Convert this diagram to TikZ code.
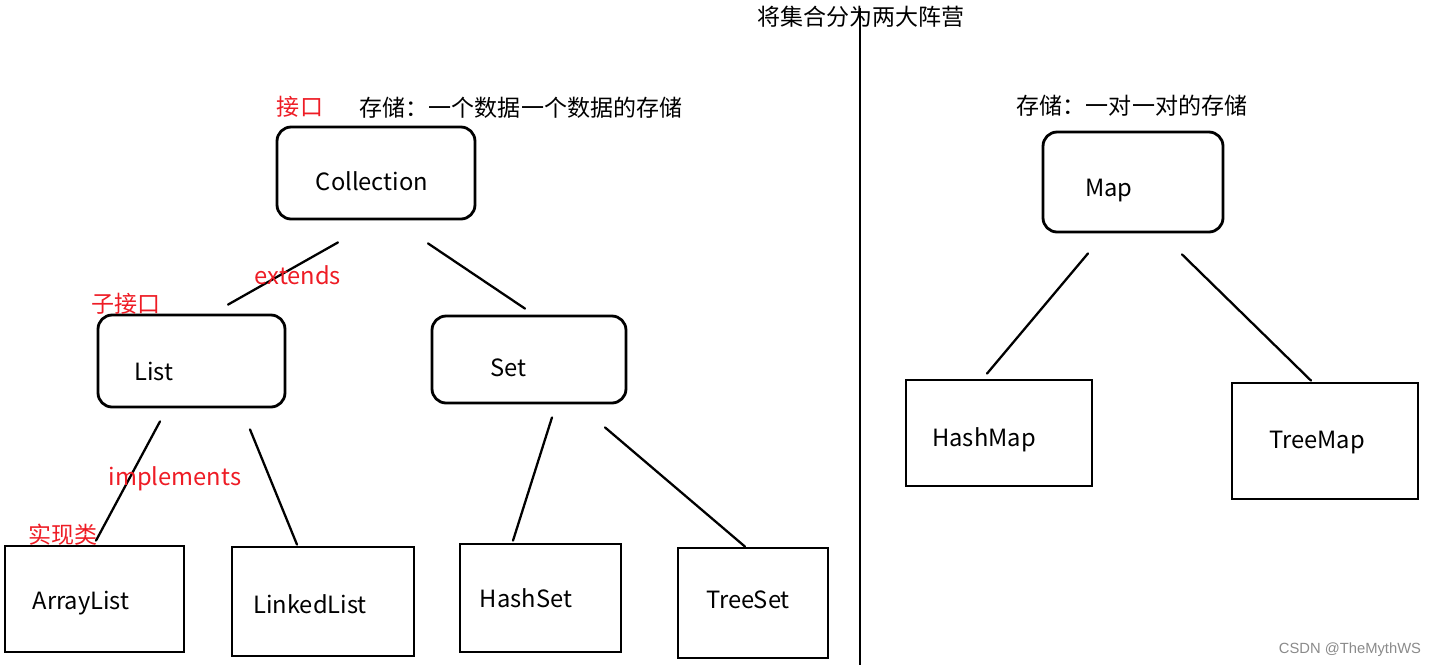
\documentclass[tikz,border=0pt]{standalone}
\usepackage{fontspec}
\setmainfont{Noto Sans CJK SC}
\newfontfamily\wmfont{Liberation Sans}
\usetikzlibrary{positioning}
\definecolor{cred}{HTML}{EE1C25}
\definecolor{cgrey}{HTML}{8A8A8A}
\tikzset{
  every picture/.style={line width=1.3pt},
  ibox/.style={draw, line width=1.6pt, rounded corners=8pt, inner sep=0pt},
  cbox/.style={draw, line width=1.6pt, inner sep=0pt},
  txt/.style={font=\fontsize{13.5}{16}\selectfont, inner sep=0pt},
  cjk/.style={font=\fontsize{13.1}{16}\selectfont, inner sep=0pt},
  redtxt/.style={txt, text=cred},
  link/.style={line width=1.3pt, line cap=round},
}

\begin{document}
\begin{tikzpicture}[x=0.02cm, y=-0.02cm]
  \useasboundingbox (0,0) rectangle (1430,667);
  % interfaces
  \node[ibox, minimum width=3.96cm, minimum height=1.84cm] (coll) at (376,173) {};
  \node[ibox, minimum width=3.74cm, minimum height=1.84cm] (list) at (191.5,361) {};
  \node[ibox, minimum width=3.88cm, minimum height=1.74cm] (set) at (529,359.5) {};
  \node[ibox, minimum width=3.6cm, minimum height=2.0cm] (map) at (1133,182) {};
  % classes
  \node[cbox, minimum width=3.58cm, minimum height=2.12cm] (alist) at (94.5,599) {};
  \node[cbox, minimum width=3.64cm, minimum height=2.18cm] (llist) at (323,601.5) {};
  \node[cbox, minimum width=3.22cm, minimum height=2.16cm] (hset) at (540.5,598) {};
  \node[cbox, minimum width=3.0cm, minimum height=2.2cm] (tset) at (753,603) {};
  \node[cbox, minimum width=3.72cm, minimum height=2.12cm] (hmap) at (999,433) {};
  \node[cbox, minimum width=3.72cm, minimum height=2.32cm] (tmap) at (1325,441) {};
  % box texts
  \node[txt] (collText) at (372,181) {Collection};
  \node[txt] (listText) at (154,371) {List};
  \node[txt] (setText) at (508,368) {Set};
  \node[txt] (mapText) at (1109,191) {Map};
  \node[txt] (alistText) at (81,603) {ArrayList};
  \node[txt] (llistText) at (310,604) {LinkedList};
  \node[txt] (hsetText) at (526,598) {HashSet};
  \node[txt] (tsetText) at (748,600) {TreeSet};
  \node[txt] (hmapText) at (984,440) {HashMap};
  \node[txt] (tmapText) at (1317,443) {TreeMap};
  % loose line ends
  \coordinate (cl1) at ([shift={(-38,22)}]coll.south);
  \coordinate (cl2) at ([shift={(36.5,-9)}]list.north);
  \coordinate (cs1) at ([shift={(52,23)}]coll.south);
  \coordinate (cs2) at ([shift={(-4,-6)}]set.north);
  \coordinate (la1) at ([shift={(-31.5,13)}]list.south);
  \coordinate (la2) at ([shift={(1.5,-4)}]alist.north);
  \coordinate (ll1) at ([shift={(58.5,21)}]list.south);
  \coordinate (ll2) at ([shift={(-26,-1)}]llist.north);
  \coordinate (sh1) at ([shift={(23,13)}]set.south);
  \coordinate (sh2) at ([shift={(-27.5,-2)}]hset.north);
  \coordinate (st1) at ([shift={(76,23)}]set.south);
  \coordinate (st2) at ([shift={(-8,0)}]tset.north);
  \coordinate (mh1) at ([shift={(-45,20)}]map.south);
  \coordinate (mh2) at ([shift={(-12,-5)}]hmap.north);
  \coordinate (mt1) at ([shift={(49,21)}]map.south);
  \coordinate (mt2) at ([shift={(-14,-1)}]tmap.north);
  \draw[link] (cl1) -- (cl2);
  \draw[link] (cs1) -- (cs2);
  \draw[link] (la1) -- (la2);
  \draw[link] (ll1) -- (ll2);
  \draw[link] (sh1) -- (sh2);
  \draw[link] (st1) -- (st2);
  \draw[link] (mh1) -- (mh2);
  \draw[link] (mt1) -- (mt2);
  % divider
  \coordinate (divTop) at (860,8);
  \coordinate (divBot) at (860,665);
  \draw[line width=1.6pt] (divTop) -- (divBot);
  % notes
  \node[cjk] (title) at (861,17) {将集合分为两大阵营};
  \node[cjk] (noteColl) at (521,108) {存储：一个数据一个数据的存储};
  \node[cjk] (noteMap) at (1132,106) {存储：一对一对的存储};
  \node[cjk, text=cred] (tagIface) at (300,107) {接口};
  \node[cjk, text=cred] (tagSub) at (126,304) {子接口};
  \node[redtxt] (tagExt) at (298,275) {extends};
  \node[redtxt] (tagImpl) at (175,479) {implements};
  \node[cjk, text=cred] (tagCls) at (63,535) {实现类};
  \node[font=\wmfont\fontsize{8.4}{10}\selectfont, text=cgrey, inner sep=0pt] (mark) at (1350,650) {CSDN @TheMythWS};
\end{tikzpicture}
\end{document}
